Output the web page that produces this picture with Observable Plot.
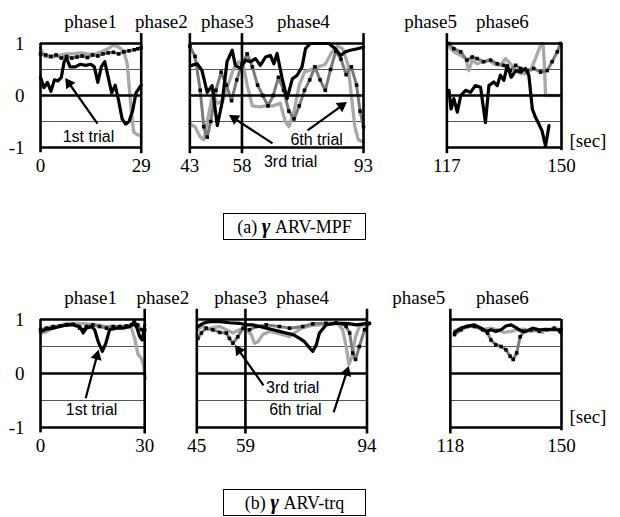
<!DOCTYPE html>
<html><head><meta charset="utf-8">
<script src="https://cdn.jsdelivr.net/npm/d3@7"></script>
<script src="https://cdn.jsdelivr.net/npm/@observablehq/plot@0.6"></script>
<style>
body{margin:0;background:#fff;}
#wrap{position:relative;width:620px;height:517px;overflow:hidden;background:#fff;}
.panel{position:absolute;left:0;}
.cap{position:absolute;left:223px;width:141px;height:25px;border:1.5px solid #000;font-family:"Liberation Serif","Times New Roman",serif;font-size:18px;text-align:center;line-height:25px;white-space:nowrap;}
.cap .g{font-style:italic;font-size:21px;font-weight:bold;}
</style></head><body><div id="wrap"></div>
<script>
// ---------- data (time [sec], value) ----------
const trialNames = ["1st trial", "3rd trial", "6th trial"];

// (a) gamma ARV-MPF
const aTicks = [0, 29, 43, 58, 93, 117, 150];
const aSegments = [[0, 29], [43, 93], [117, 150]];
const aPhaseLines = [29, 43, 58, 93, 117];
const aTrial1 = [
 [0,0.35],[1,0.15],[2,0.25],[3,0.08],[4,0.3],[5,0.28],[6,0.35],[6.8,0.65],[7.5,0.72],[8.5,0.55],[10,0.55],[11.5,0.6],[13,0.58],[14.5,0.6],[15.5,0.55],[16.5,0.25],[17.5,0.55],[18.5,0.65],[19.5,0.35],[20.5,0.05],[21.5,0.2],[22.5,-0.1],[23.5,-0.45],[24.5,-0.55],[25.5,-0.5],[26.5,-0.3],[27.5,0.05],[28.5,0.15],[29,0.2],
 [43.5,0.58],[45.1,0.61],[46.5,0.48],[48,0.06],[49.4,0.19],[50.9,-0.58],[52.3,-0.13],[53.7,0.65],[55.2,0.87],[56.1,0.58],[57.6,0.52],[59,0.68],[60.5,0.65],[61.9,0.71],[63.3,0.58],[64.8,0.74],[66.2,0.77],[67.2,0.61],[68.1,0.81],[69.6,0.32],[71,-0.06],[72.5,0.32],[73.9,0.39],[75.3,0.55],[76.3,0.9],[77.7,1.0],[80.6,1.0],[83,1.0],[84.9,0.9],[86.4,0.77],[87.8,0.84],[89.2,0.87],[91.2,0.9],[93,0.93],
 [117.6,0.1],[118.2,-0.26],[119,-0.06],[120,-0.32],[121,0.0],[122.4,0.1],[123.8,0.06],[125.2,0.19],[126.7,0.16],[128.1,-0.52],[129.1,0.19],[130.5,0.26],[131.5,0.19],[132.4,0.39],[133.4,0.29],[134.4,0.58],[135.5,0.35],[136.8,0.48],[138.2,0.45],[139.6,0.52],[140.6,0.39],[141.6,-0.26],[142.5,-0.42],[143.5,-0.55],[144.4,-0.68],[145.4,-0.97],[146.4,-0.58]
];
const aTrial3 = [
 [0,0.8],[1.5,0.78],[3,0.75],[4.5,0.78],[6,0.72],[7.5,0.75],[9,0.72],[10.5,0.74],[12,0.76],[13.5,0.73],[15,0.78],[16.5,0.76],[18,0.8],[19.5,0.82],[21,0.83],[22.5,0.8],[24,0.84],[25.5,0.86],[27,0.88],[28,0.9],[29,0.92],
 [43,0.95],[44.5,0.75],[46,0.1],[47,-0.6],[48,-0.8],[49,-0.5],[50.5,0.1],[52,0.45],[53.5,0.2],[55,-0.1],[56.5,0.3],[58,0.6],[59.5,0.8],[61,0.55],[62.5,0.2],[64,0.0],[65.5,-0.2],[67,0.0],[68.5,0.35],[70,0.1],[71.5,-0.3],[73,-0.45],[74.5,-0.2],[76,0.1],[77.5,0.3],[79,0.55],[80.5,0.3],[82,0.1],[83.5,0.5],[85,0.85],[86.5,0.7],[88,0.4],[89.5,0.55],[91,0.2],[92,-0.3],[93,-0.6],
 [117.6,1.0],[119,0.9],[121,0.84],[122.8,0.68],[124.3,0.74],[125.7,0.71],[127.6,0.65],[129.6,0.68],[131.5,0.61],[133.4,0.58],[135.3,0.48],[136.8,0.58],[138.2,0.52],[140.1,0.48],[142,0.52],[144,0.45],[145.9,0.48],[147.3,0.65],[148.8,0.84],[149.7,1.0]
];
const aTrial6 = [
 [0,0.9],[1.2,0.75],[3.6,0.74],[6,0.78],[7.5,0.8],[9.5,0.8],[11.5,0.82],[13.5,0.8],[15.5,0.79],[17.5,0.84],[19.5,0.9],[21,0.97],[22.5,0.93],[24,0.85],[25,0.6],[26,-0.2],[26.8,-0.7],[27.8,-0.75],[29,-0.78],
 [43,-0.55],[44.5,-0.6],[46,-0.8],[47,-0.85],[48,-0.5],[49.5,0.0],[51,-0.15],[52.5,-0.1],[54,0.2],[55.5,0.5],[57,0.65],[58.5,0.55],[59.5,0.2],[61,-0.2],[63,-0.22],[65,-0.2],[67,-0.2],[69,-0.15],[70.5,-0.5],[71.5,-0.6],[73,-0.3],[74.5,0.2],[76,0.45],[78,0.5],[80,0.55],[82,0.6],[84,0.85],[85.5,0.95],[87,0.9],[88.5,0.6],[89.5,0.0],[90.5,-0.6],[91.5,-0.85],[93,-0.9],
 [117.6,0.94],[119,0.84],[121,0.77],[122.4,0.71],[123.3,0.48],[124.3,0.68],[125.7,0.61],[127.6,0.65],[129.1,0.68],[130.5,0.61],[132.4,0.58],[133.9,0.71],[135.3,0.61],[136.8,0.48],[138.2,0.42],[139.6,0.42],[141.1,0.48],[142.5,0.71],[144,0.97],[144.7,1.0],[145.1,0.58],[145.4,0.0],[146.8,0.0],[150,0.0]
];

// (b) gamma ARV-trq
const bTicks = [0, 30, 45, 59, 94, 118, 150];
const bSegments = [[0, 30], [45, 94], [118, 150]];
const bPhaseLines = [30, 45, 59, 94, 118];
const bTrial1 = [
 [0,0.78],[1.7,0.82],[3.6,0.84],[5.6,0.87],[7.5,0.9],[9.4,0.9],[11.3,0.87],[12.3,0.75],[13.2,0.84],[14.7,0.87],[15.6,0.81],[16.6,0.59],[17.8,0.41],[18.8,0.56],[19.9,0.81],[21.9,0.84],[23.8,0.84],[25.7,0.87],[26.7,0.93],[27.6,0.87],[28.6,0.68],[29.3,0.62],[30,0.9],
 [45.3,0.87],[46.8,0.93],[48.7,0.96],[51.6,0.96],[54.4,0.94],[57.3,0.93],[59.2,0.9],[61.1,0.9],[63.1,0.87],[65,0.84],[66.9,0.81],[68.8,0.78],[70.7,0.75],[72.7,0.72],[74.6,0.65],[76,0.59],[77.5,0.47],[78.4,0.41],[79.4,0.53],[80.3,0.75],[82.2,0.9],[85.1,0.93],[87.5,0.93],[89,0.92],[91,0.9],[93,0.92],[94,0.93],
 [119.2,0.76],[121.1,0.84],[123,0.88],[124.9,0.9],[126.8,0.84],[128.5,0.78],[129.7,0.81],[131.1,0.78],[132.6,0.81],[134,0.88],[135.5,0.9],[136.9,0.85],[138.3,0.79],[139.8,0.78],[141.7,0.84],[143.6,0.81],[145.5,0.82],[147.4,0.81],[148.9,0.81],[149.8,0.75]
];
const bTrial3 = [
 [0,0.81],[1.7,0.84],[3.6,0.87],[5.6,0.88],[7.5,0.9],[9.4,0.91],[11.3,0.84],[12.3,0.81],[13.2,0.87],[15.1,0.9],[17,0.87],[19,0.84],[20.9,0.87],[22.8,0.87],[24.7,0.88],[26.2,0.9],[27,0.96],[28,0.9],[29,0.81],[30,0.81],
 [45.3,0.65],[46.3,0.75],[47.7,0.84],[49.6,0.81],[51.6,0.76],[53.5,0.75],[54.4,0.65],[55.4,0.56],[56.8,0.68],[58.3,0.84],[60.2,0.81],[62.1,0.87],[65,0.9],[68.8,0.87],[71.7,0.84],[75.5,0.87],[78.4,0.92],[82.2,0.93],[85.1,0.94],[87,0.92],[88,0.87],[89,0.75],[89.9,0.38],[90.7,0.26],[91.8,0.5],[93.3,0.81],[94.7,0.93],
 [119.2,0.72],[121.1,0.81],[123,0.87],[124.9,0.87],[127.3,0.81],[128.7,0.75],[129.7,0.62],[131.1,0.53],[132.6,0.5],[134,0.44],[135.2,0.32],[136.1,0.26],[137.1,0.38],[138.1,0.68],[139.3,0.78],[141.2,0.81],[143.6,0.78],[146,0.81],[147.9,0.84],[149.8,0.81]
];
const bTrial6 = [
 [0,0.75],[1.2,0.76],[2.7,0.81],[5.1,0.87],[7.5,0.93],[10.4,0.93],[13.2,0.92],[16.1,0.9],[19,0.87],[21.9,0.87],[24.7,0.87],[26.2,0.84],[27.1,0.65],[28.1,0.35],[29,0.29],[29.7,0.14],[30.2,-0.1],
 [45.3,0.81],[46.8,0.88],[48.2,0.81],[49.6,0.85],[51.6,0.87],[53.5,0.81],[55.4,0.75],[57.3,0.81],[59.2,0.81],[60.7,0.72],[61.6,0.56],[62.6,0.59],[64,0.72],[66,0.78],[67.9,0.75],[69.8,0.72],[71.7,0.68],[73.1,0.75],[75.1,0.84],[77.5,0.88],[80.3,0.9],[83.2,0.92],[85.6,0.92],[87,0.81],[88,0.5],[88.8,0.17],[89.7,0.32],[90.7,0.68],[91.8,0.87],[94.7,0.92],
 [119.2,0.79],[121.1,0.84],[123.5,0.88],[125.9,0.87],[127.8,0.82],[129.7,0.84],[131.6,0.81],[133.5,0.76],[135.5,0.78],[137.4,0.81],[139.3,0.82],[141.2,0.78],[143.1,0.81],[144.6,0.76]
];

// phase label anchors (sec) and annotation anchors
const phaseNames = ["phase1","phase2","phase3","phase4","phase5","phase6"];
const aPhaseX = [14.4, 34.8, 53.8, 75.7, 112.3, 133];
const bPhaseX = [14.4, 35.2, 57.6, 75.5, 108.9, 133];
const aNotes = [
 {label:"1st trial", tx:13.8, ty:-0.79, x1:16.4, y1:-0.54, x2:7.2, y2:0.33},
 {label:"3rd trial", tx:72, ty:-1.27, x1:66.8, y1:-0.92, x2:54.4, y2:-0.38},
 {label:"6th trial", tx:79.5, ty:-0.85, x1:76.9, y1:-0.67, x2:88.1, y2:-0.13}
];
const bNotes = [
 {label:"1st trial", tx:14.7, ty:-0.67, x1:13, y1:-0.46, x2:16.7, y2:0.43},
 {label:"3rd trial", tx:72.6, ty:-0.26, x1:64.2, y1:-0.22, x2:56.1, y2:0.52},
 {label:"6th trial", tx:73.4, ty:-0.67, x1:84.4, y1:-0.72, x2:88.7, y2:0.13}
];

// ---------- drawing ----------
const serif = "'Liberation Serif', 'Times New Roman', serif";
const sans = "'Liberation Sans', Arial, sans-serif";

function toRows(arr, segs){
  return arr.map(([t,v]) => ({t, v, seg: segs.findIndex(([a,b]) => t >= a - 3 && t <= b + 3)}));
}

function panel(cfg){
  const r1 = toRows(cfg.t1, cfg.segs), r3 = toRows(cfg.t3, cfg.segs), r6 = toRows(cfg.t6, cfg.segs);
  const grid = cfg.segs.flatMap(([a,b]) => [0.5,-0.5].map(y => ({x1:a, x2:b, y})));
  const thick = cfg.segs.flatMap(([a,b]) => [1,0,-1].map(y => ({x1:a, x2:b, y})));
  const verts = [
    {x:cfg.segs[0][0], y1:-1.1, y2:1},
    {x:cfg.segs[2][1], y1:-1.06, y2:1},
    ...cfg.lines.map(x => ({x, y1:-1.12, y2:1.19}))
  ];
  const kx = (620 - 40 - 59) / 150, ky = cfg.h / 2;   // px per unit (for arrow head orientation)
  const heads = cfg.notes.map(n => {
    const ux = (n.x2 - n.x1) * kx, uy = -(n.y2 - n.y1) * ky;
    const L = Math.hypot(ux, uy), back = 6;
    return {
      ...n,
      hx: n.x2 - (ux / L) * back / kx,
      hy: n.y2 + (uy / L) * back / ky,
      rot: Math.atan2(ux, -uy) * 180 / Math.PI
    };
  });
  return Plot.plot({
    width:620, height:cfg.height, marginLeft:40, marginRight:59, marginTop:43, marginBottom:cfg.height-43-cfg.h,
    x:{domain:[0,150], axis:null},
    y:{domain:[-1,1], axis:null},
    style:{background:"transparent", overflow:"visible", fontFamily:serif},
    marks:[
      Plot.ruleY(grid, {y:"y", x1:"x1", x2:"x2", stroke:"#555", strokeWidth:1.2}),
      Plot.line(r6, {x:"t", y:"v", z:"seg", stroke:"#a8a8a8", strokeWidth:3.3}),
      Plot.line(r3, {x:"t", y:"v", z:"seg", stroke:"#7a7a7a", strokeWidth:3}),
      Plot.dot(r3, {x:"t", y:"v", symbol:"square", r:2, fill:"#000", stroke:"none"}),
      Plot.line(r1, {x:"t", y:"v", z:"seg", stroke:"#000", strokeWidth:3.2}),
      Plot.ruleY(thick, {y:"y", x1:"x1", x2:"x2", stroke:"#000", strokeWidth:2.6}),
      Plot.ruleX(verts, {x:"x", y1:"y1", y2:"y2", stroke:"#000", strokeWidth:2.6}),
      Plot.text([1,0,-1], {x:0, y:d=>d, text:d=>String(d), dx:-16, textAnchor:"end", fontSize:19, fontFamily:serif, fill:"#000"}),
      Plot.text(cfg.ticks, {x:d=>d, y:-1, text:d=>String(d), dy:18, fontSize:19, fontFamily:serif, fill:"#000"}),
      Plot.text(phaseNames, {x:(d,i)=>cfg.phaseX[i], y:1, text:d=>d, dy:-22, fontSize:19, fontFamily:serif, fill:"#000"}),
      Plot.text(["[sec]"], {x:150, y:cfg.secY, text:d=>d, dx:8, textAnchor:"start", fontSize:19, fontFamily:serif, fill:"#000"}),
      Plot.link(heads, {x1:"x1", y1:"y1", x2:"hx", y2:"hy", stroke:"#000", strokeWidth:2.2}),
      Plot.dot(heads, {x:"hx", y:"hy", symbol:"triangle", r:4.2, rotate:"rot", fill:"#000", stroke:"none"}),
      Plot.text(cfg.notes, {x:"tx", y:"ty", text:"label", fontSize:16, fontFamily:sans, fill:"#000"})
    ]
  });
}

const wrap = document.getElementById("wrap");
const pa = panel({t1:aTrial1, t3:aTrial3, t6:aTrial6, segs:aSegments, lines:aPhaseLines, ticks:aTicks, phaseX:aPhaseX, notes:aNotes, height:200, h:104, secY:-0.87});
pa.classList.add("panel"); pa.style.top = "0px";
wrap.appendChild(pa);
const pb = panel({t1:bTrial1, t3:bTrial3, t6:bTrial6, segs:bSegments, lines:bPhaseLines, ticks:bTicks, phaseX:bPhaseX, notes:bNotes, height:202, h:108, secY:-0.81});
pb.classList.add("panel"); pb.style.top = "276px";
wrap.appendChild(pb);

const capA = document.createElement("div");
capA.className = "cap"; capA.style.top = "213px";
capA.innerHTML = '(a) <span class="g">γ</span> ARV-MPF';
wrap.appendChild(capA);
const capB = document.createElement("div");
capB.className = "cap"; capB.style.top = "489px";
capB.innerHTML = '(b) <span class="g">γ</span> ARV-trq';
wrap.appendChild(capB);
</script>
</body></html>
